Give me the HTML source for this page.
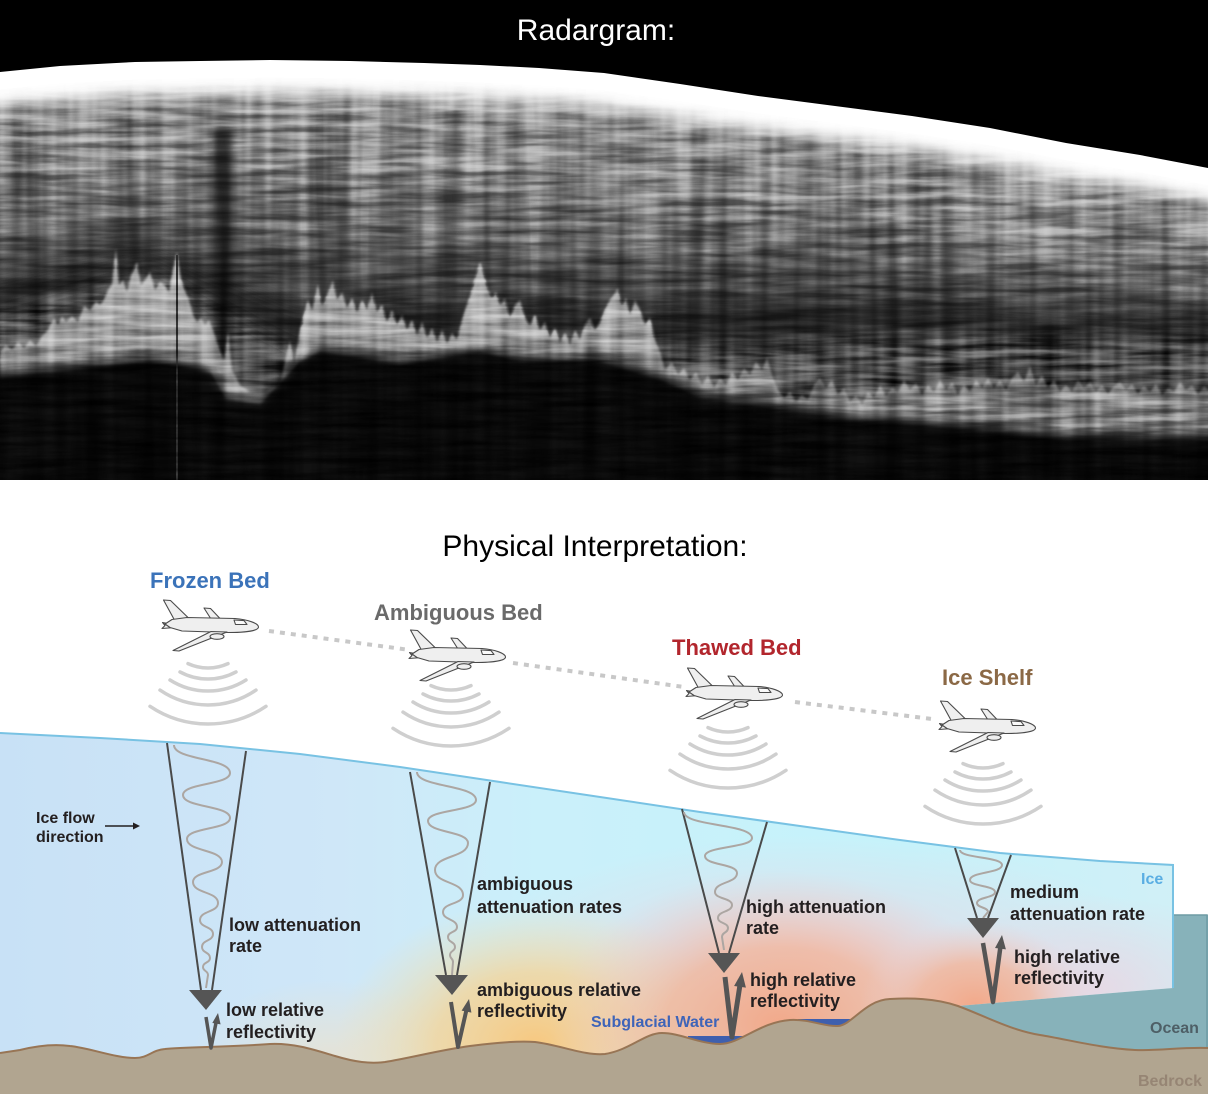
<!DOCTYPE html>
<html>
<head>
<meta charset="utf-8">
<style>
html,body{margin:0;padding:0;background:#fff;width:1208px;height:1094px;overflow:hidden;}
svg{display:block;}
text{font-family:"Liberation Sans",Arial,Helvetica,sans-serif;}
.lb{font-weight:bold;font-size:18px;fill:#231f20;}
</style>
</head>
<body>
<svg width="1208" height="1094" viewBox="0 0 1208 1094" xmlns="http://www.w3.org/2000/svg" overflow="hidden">
<defs>
  <filter id="blur9" filterUnits="userSpaceOnUse" x="-60" y="-60" width="1330" height="600"><feGaussianBlur stdDeviation="9"/></filter>
  <filter id="blur7" filterUnits="userSpaceOnUse" x="-60" y="-60" width="1330" height="600"><feGaussianBlur stdDeviation="7"/></filter>
  <filter id="blur5" filterUnits="userSpaceOnUse" x="-60" y="-60" width="1330" height="600"><feGaussianBlur stdDeviation="5"/></filter>
  <filter id="blur3" filterUnits="userSpaceOnUse" x="-60" y="-60" width="1330" height="600"><feGaussianBlur stdDeviation="3"/></filter>
  <filter id="blur1" filterUnits="userSpaceOnUse" x="-60" y="-60" width="1330" height="600"><feGaussianBlur stdDeviation="1.2"/></filter>
  <filter id="tx1" filterUnits="userSpaceOnUse" x="0" y="0" width="1208" height="480" color-interpolation-filters="sRGB">
    <feTurbulence type="fractalNoise" baseFrequency="0.012 0.14" numOctaves="3" seed="5"/>
    <feColorMatrix type="matrix" values="1 0 0 0 0  1 0 0 0 0  1 0 0 0 0  0 0 0 0 1"/>
    <feComponentTransfer>
      <feFuncR type="linear" slope="2" intercept="-0.5"/>
      <feFuncG type="linear" slope="2" intercept="-0.5"/>
      <feFuncB type="linear" slope="2" intercept="-0.5"/>
    </feComponentTransfer>
  </filter>
  <filter id="tx2" filterUnits="userSpaceOnUse" x="0" y="0" width="1208" height="480" color-interpolation-filters="sRGB">
    <feTurbulence type="fractalNoise" baseFrequency="0.07 0.003" numOctaves="2" seed="11"/>
    <feColorMatrix type="matrix" values="1 0 0 0 0  1 0 0 0 0  1 0 0 0 0  0 0 0 0 1"/>
    <feComponentTransfer>
      <feFuncR type="linear" slope="2" intercept="-0.5"/>
      <feFuncG type="linear" slope="2" intercept="-0.5"/>
      <feFuncB type="linear" slope="2" intercept="-0.5"/>
    </feComponentTransfer>
  </filter>
  <clipPath id="radclip">
    <polygon points="-10,88 0,87 60,81 135,77 200,76 270,75 350,76 424,78 480,80 539,83 604,88 680,99 758,111 835,121 912,131 990,143 1066,158 1140,170 1208,183 1218,185 1218,480 -10,480"/>
  </clipPath>
  <clipPath id="radbox"><rect x="0" y="0" width="1208" height="480"/></clipPath>
  <linearGradient id="spk" x1="0" y1="240" x2="0" y2="450" gradientUnits="userSpaceOnUse">
    <stop offset="0" stop-color="#c4c4c4"/>
    <stop offset="0.5" stop-color="#989898"/>
    <stop offset="1" stop-color="#707070"/>
  </linearGradient>

  <clipPath id="iceclip">
    <path d="M0,733 L100,738 L200,744 L300,754 L400,767 L500,782 L600,797 L700,812 L800,826 L900,840 L1000,853 L1100,861 L1173,865 L1173,988 L958,1006 L958,1094 L0,1094 Z"/>
  </clipPath>
  <linearGradient id="iceBase" x1="0" y1="0" x2="1208" y2="0" gradientUnits="userSpaceOnUse">
    <stop offset="0" stop-color="#c8e1f6"/>
    <stop offset="0.28" stop-color="#cfe7f8"/>
    <stop offset="0.45" stop-color="#caf0fa"/>
    <stop offset="0.75" stop-color="#c5f3fb"/>
    <stop offset="1" stop-color="#d2eff6"/>
  </linearGradient>
  <radialGradient id="gY" gradientUnits="userSpaceOnUse" cx="0" cy="0" r="1" gradientTransform="translate(535 1045) scale(200 145)">
    <stop offset="0" stop-color="#f7c880" stop-opacity="1"/>
    <stop offset="0.5" stop-color="#f6d394" stop-opacity="0.75"/>
    <stop offset="1" stop-color="#f5e0b0" stop-opacity="0"/>
  </radialGradient>
  <radialGradient id="gS" gradientUnits="userSpaceOnUse" cx="0" cy="0" r="1" gradientTransform="translate(780 1025) scale(230 155)">
    <stop offset="0" stop-color="#f2a98a" stop-opacity="1"/>
    <stop offset="0.5" stop-color="#f1b69c" stop-opacity="0.8"/>
    <stop offset="1" stop-color="#eecfd0" stop-opacity="0"/>
  </radialGradient>
  <radialGradient id="gS2" gradientUnits="userSpaceOnUse" cx="0" cy="0" r="1" gradientTransform="translate(975 1005) scale(115 85)">
    <stop offset="0" stop-color="#f2a98a" stop-opacity="1"/>
    <stop offset="0.5" stop-color="#f1b69c" stop-opacity="0.8"/>
    <stop offset="1" stop-color="#eecfd0" stop-opacity="0"/>
  </radialGradient>
  <radialGradient id="gL" gradientUnits="userSpaceOnUse" cx="0" cy="0" r="1" gradientTransform="translate(820 955) scale(340 120)">
    <stop offset="0" stop-color="#e8d8e4" stop-opacity="0.95"/>
    <stop offset="1" stop-color="#e8d8e4" stop-opacity="0"/>
  </radialGradient>
  <radialGradient id="gL2" gradientUnits="userSpaceOnUse" cx="0" cy="0" r="1" gradientTransform="translate(1090 990) scale(170 95)">
    <stop offset="0" stop-color="#e8d8e4" stop-opacity="0.95"/>
    <stop offset="1" stop-color="#e8d8e4" stop-opacity="0"/>
  </radialGradient>
  <radialGradient id="gG" gradientUnits="userSpaceOnUse" cx="0" cy="0" r="1" gradientTransform="translate(330 1060) scale(140 80)">
    <stop offset="0" stop-color="#e8e2d2" stop-opacity="0.9"/>
    <stop offset="1" stop-color="#e8e2d2" stop-opacity="0"/>
  </radialGradient>

  <g id="plane" stroke="#4a4a4a" stroke-width="1.1" stroke-linejoin="round" fill="#efefef">
    <path d="M49,19 L42,8 L48.5,8.5 L58.5,19 Z"/>
    <path d="M13,21 L1.5,0 L8.5,0.5 L26,17.5 Z"/>
    <path d="M12,24.5 L0.5,22.5 L3,25.5 L0,28.5 L13,27.5 Z"/>
    <path d="M3,24 L10,19.5 L25,17.5 L73,18.5 C86,19.5 96.5,23.5 96.5,27 C96.5,30.5 85,32.5 66,32.5 L20,31 L8,27.5 Z"/>
    <path d="M65,32 L17,51 L11,50.5 L49,31.5 Z"/>
    <ellipse cx="55" cy="36.5" rx="7" ry="2.8"/>
    <path d="M72,20 L82,20.6 L85,24.5 L73.5,24.5 Z" fill="#fafafa"/>
  </g>
  <g id="arcs" fill="none" stroke="#cfcfcf" stroke-width="3.5" stroke-linecap="round">
    <path d="M-20,43.6 A48,48 0 0 0 20,43.6"/>
    <path d="M-28,51.9 A59,59 0 0 0 28,51.9"/>
    <path d="M-38,60 A71,71 0 0 0 38,60"/>
    <path d="M-48,70.1 A85,85 0 0 0 48,70.1"/>
    <path d="M-58,86.3 A104,104 0 0 0 58,86.3"/>
  </g>
</defs>

<!-- ================= RADARGRAM ================= -->
<rect x="0" y="0" width="1208" height="480" fill="#000"/>
<g clip-path="url(#radbox)">
<g filter="url(#blur9)">
  <path fill="#222222" d="M-40,-20 L1250,-20 L1250,345 L1050,335 L900,335 L750,345 L600,340 L450,335 L300,350 L150,270 L-40,325 Z"/>
  <path fill="#444444" d="M-40,-20 L1250,-20 L1250,320 L1050,310 L900,300 L750,300 L600,305 L450,298 L300,305 L150,245 L-40,285 Z"/>
  <path fill="#666666" d="M-40,-20 L1250,-20 L1250,295 L1050,280 L900,265 L750,255 L600,258 L450,248 L300,250 L150,218 L-40,240 Z"/>
  <path fill="#838383" d="M-40,-20 L1250,-20 L1250,265 L1050,245 L900,225 L750,205 L600,195 L450,182 L300,175 L150,170 L-40,178 Z"/>
  <path fill="#9c9c9c" d="M-40,-20 L1250,-20 L1250,215 L1050,190 L900,162 L750,142 L600,120 L450,110 L300,107 L150,108 L-40,118 Z"/>
</g>
<!-- white surface band -->
<polygon filter="url(#blur7)" fill="#ffffff" points="-40,48 0,47 60,41 135,37 200,36 270,35 350,36 424,38 480,40 539,43 604,48 680,59 758,71 835,81 912,91 990,103 1066,118 1140,130 1208,143 1250,150 1250,208 1208,201 1140,188 1066,176 990,161 912,149 835,139 758,129 680,117 604,106 539,101 480,98 424,96 350,94 270,93 200,94 135,95 60,99 0,105 -40,106"/>
<!-- black above surface -->
<polygon fill="#000" points="-10,-10 1218,-10 1218,170 1208,168 1140,155 1066,143 990,128 912,116 835,106 758,96 680,84 604,73 539,68 480,65 424,63 350,61 270,60 200,61 135,62 60,66 0,72 -10,73"/>
<!-- dark streak -->
<polygon filter="url(#blur3)" fill="#000" opacity="0.55" points="214,130 232,130 228,370 221,370"/>
<polygon filter="url(#blur3)" fill="#000" opacity="0.35" points="448,110 458,110 457,300 452,300"/>
<!-- bedrock echo -->
<polygon filter="url(#blur1)" fill="url(#spk)" points="0,352 6,345 12,350 18,342 24,348 30,340 36,346 42,336 48,330 54,318 58,325 62,316 66,322 72,316 78,322 84,306 90,310 96,302 100,305 104,300 108,290 112,285 116,248 119,285 123,280 127,292 131,275 137,262 141,285 145,280 150,272 155,290 160,282 165,286 169,292 173,270 177,252 181,280 185,290 189,300 193,315 197,322 201,318 205,325 209,320 213,330 218,345 224,360 228,332 232,370 240,385 250,392 265,392 280,385 290,340 294,365 300,330 304,315 308,300 312,310 318,284 322,305 327,295 333,280 337,300 342,292 347,308 352,298 357,312 362,300 367,310 372,292 377,312 382,305 387,322 392,310 397,325 402,315 407,330 412,320 417,335 422,322 427,338 432,328 437,342 442,330 447,344 452,333 457,340 462,320 467,305 472,290 476,275 480,262 484,275 488,290 492,298 496,292 500,305 505,298 510,318 515,305 520,300 525,318 530,325 535,315 540,330 545,322 550,338 555,328 560,342 565,333 570,345 575,330 580,340 585,325 590,318 595,330 600,322 605,310 610,300 614,295 618,288 622,305 626,298 630,315 635,300 640,310 645,325 650,318 655,340 660,352 665,370 672,362 678,375 684,368 690,380 696,372 702,385 708,375 714,388 720,378 726,385 732,372 738,380 744,368 750,375 756,362 762,370 767,358 772,375 778,390 784,398 790,392 796,402 802,395 808,400 814,385 820,378 826,388 832,380 838,395 844,388 850,402 856,395 862,405 868,392 874,398 880,385 886,396 892,388 898,392 904,380 910,390 916,383 922,395 928,385 934,392 940,380 946,390 952,382 958,395 964,385 970,392 976,380 982,388 988,378 994,388 1000,380 1006,390 1012,378 1018,372 1024,382 1030,366 1036,385 1042,375 1048,388 1054,380 1060,392 1066,385 1072,392 1078,380 1084,388 1090,382 1096,392 1102,385 1108,394 1114,386 1120,382 1126,390 1132,384 1138,394 1144,386 1150,392 1156,384 1162,395 1168,388 1174,392 1180,382 1186,390 1192,385 1198,395 1204,386 1208,390 1210,390 1210,442 1066,440 950,428 850,420 780,410 700,398 660,380 600,362 520,362 480,352 400,365 320,352 300,362 260,405 225,398 210,372 150,362 100,368 50,372 0,378"/>
<!-- soften bed bottom -->
<polygon filter="url(#blur5)" fill="#000" opacity="0.9" points="1230,436 1066,434 950,422 850,414 780,404 700,392 660,374 600,356 520,356 480,346 400,359 320,346 300,358 260,402 225,395 210,366 150,356 100,362 50,366 0,372 -30,372 -30,500 1230,500"/>
<line x1="177" y1="255" x2="177" y2="480" stroke="#2e2e2e" stroke-width="2"/>
<!-- textures -->
<rect x="0" y="0" width="1208" height="480" fill="#888" filter="url(#tx1)" clip-path="url(#radclip)" style="mix-blend-mode:overlay" opacity="0.4"/>
<rect x="0" y="0" width="1208" height="480" fill="#888" filter="url(#tx2)" clip-path="url(#radclip)" style="mix-blend-mode:overlay" opacity="0.3"/>
</g>

<text x="596" y="40" text-anchor="middle" font-size="30" fill="#ffffff">Radargram:</text>

<!-- ================= PHYSICAL INTERPRETATION ================= -->
<text x="595" y="556" text-anchor="middle" font-size="30" fill="#000">Physical Interpretation:</text>

<!-- ice body -->
<g clip-path="url(#iceclip)">
  <rect x="0" y="720" width="1208" height="374" fill="url(#iceBase)"/>
  <rect x="0" y="720" width="1208" height="374" fill="url(#gL)"/>
  <rect x="0" y="720" width="1208" height="374" fill="url(#gL2)"/>
  <rect x="0" y="720" width="1208" height="374" fill="url(#gG)"/>
  <rect x="0" y="720" width="1208" height="374" fill="url(#gY)"/>
  <rect x="0" y="720" width="1208" height="374" fill="url(#gS)"/>
  <rect x="0" y="720" width="1208" height="374" fill="url(#gS2)"/>
</g>

<!-- ocean -->
<path d="M958,1006 L1173,988 L1173,915 L1208,915 L1208,1094 L958,1094 Z" fill="#87b2ba"/>
<path d="M1173,915 L1207,915 L1207,1050" fill="none" stroke="#6f9ba4" stroke-width="1.5"/>

<!-- water pools -->
<rect x="688" y="1036" width="68" height="14" fill="#3e5fae"/>
<rect x="798" y="1019" width="58" height="13" fill="#3e5fae"/>

<!-- bedrock -->
<path fill="#b1a590" d="M0,1053 L20,1050 C40,1045 55,1044 70,1046 C90,1048 115,1058 135,1058 C148,1058 152,1050 165,1049 C185,1047 230,1047 270,1044 C295,1043 315,1050 335,1056 C355,1062 370,1064 385,1062 C410,1058 440,1050 470,1046 C500,1042 520,1041 535,1042 C560,1045 585,1056 605,1054 C630,1050 645,1033 662,1033 C680,1033 700,1044 720,1044 C740,1044 760,1022 790,1020 C810,1019 825,1027 838,1026 C852,1025 865,1000 890,999 C910,998 935,998 958,1006 C985,1016 1010,1030 1040,1035 C1070,1040 1100,1048 1135,1050 C1160,1051 1180,1047 1208,1048 L1208,1094 L0,1094 Z"/>
<path fill="none" stroke="#987555" stroke-width="2" d="M0,1053 L20,1050 C40,1045 55,1044 70,1046 C90,1048 115,1058 135,1058 C148,1058 152,1050 165,1049 C185,1047 230,1047 270,1044 C295,1043 315,1050 335,1056 C355,1062 370,1064 385,1062 C410,1058 440,1050 470,1046 C500,1042 520,1041 535,1042 C560,1045 585,1056 605,1054 C630,1050 645,1033 662,1033 C680,1033 700,1044 720,1044 C740,1044 760,1022 790,1020 C810,1019 825,1027 838,1026 C852,1025 865,1000 890,999 C910,998 935,998 958,1006 C985,1016 1010,1030 1040,1035 C1070,1040 1100,1048 1135,1050 C1160,1051 1180,1047 1208,1048"/>

<!-- ice surface line -->
<path d="M0,733 L100,738 L200,744 L300,754 L400,767 L500,782 L600,797 L700,812 L800,826 L900,840 L1000,853 L1100,861 L1173,865 L1173,988" fill="none" stroke="#78c2e3" stroke-width="2"/>

<!-- dotted flight path -->
<g stroke="#c8c8c8" stroke-width="4" stroke-dasharray="5 6" fill="none">
  <line x1="269" y1="631" x2="410" y2="650"/>
  <line x1="513" y1="663" x2="684" y2="687"/>
  <line x1="795" y1="702" x2="932" y2="719"/>
</g>

<!-- radar arcs -->
<use href="#arcs" x="208" y="620"/>
<use href="#arcs" x="451" y="642"/>
<use href="#arcs" x="728" y="684"/>
<use href="#arcs" x="983" y="720"/>

<!-- planes -->
<use href="#plane" x="162" y="600"/>
<use href="#plane" x="409" y="630"/>
<use href="#plane" x="686" y="668"/>
<use href="#plane" x="939" y="701"/>

<!-- bed type titles -->
<text x="150" y="588" font-size="22" font-weight="bold" fill="#3b73b9">Frozen Bed</text>
<text x="374" y="620" font-size="22" font-weight="bold" fill="#6a6a6a">Ambiguous Bed</text>
<text x="672" y="655" font-size="22" font-weight="bold" fill="#b2262d">Thawed Bed</text>
<text x="942" y="685" font-size="22" font-weight="bold" fill="#8b6946">Ice Shelf</text>

<!-- cones -->
<g stroke="#4a4a4a" stroke-width="2" fill="none">
  <line x1="167" y1="743" x2="201" y2="990"/>
  <line x1="246" y1="751" x2="212" y2="990"/>
  <line x1="410" y1="772" x2="446" y2="975"/>
  <line x1="490" y1="782" x2="457" y2="975"/>
  <line x1="682" y1="809" x2="719" y2="953"/>
  <line x1="767" y1="822" x2="729" y2="953"/>
  <line x1="955" y1="848" x2="977" y2="918"/>
  <line x1="1011" y1="855" x2="988" y2="918"/>
</g>
<!-- waves -->
<g stroke="#aca6a2" stroke-width="2" fill="none">
  <path d="M174,745 C174,760.4 230,757.6 230,773 C230,785.1 183,782.9 183,795 C183,807.7 230,805.3 230,818 C230,829.6 187,827.4 187,839 C187,851.7 222,849.3 222,862 C222,873 193,871 193,882 C193,893.6 218,891.4 218,903 C218,912.4 200,910.6 200,920 C200,927.7 213,926.3 213,934 C213,941.2 202,939.8 202,947 C202,953 210,952 210,958 C210,963 203,962 203,967 C203,971.4 208,970.6 208,975 L206,988"/>
  <path d="M417,772 C417,787.4 476,784.6 476,800 C476,811.6 428,809.4 428,821 C428,833.1 468,830.9 468,843 C468,857.9 435,855.1 435,870 C435,883.8 463,881.2 463,895 C463,904.4 443,902.6 443,912 C443,920.3 457,918.7 457,927 C457,932.5 448,931.5 448,937 C448,942.5 455,941.5 455,947 C455,951.4 450,950.6 450,955 C450,958.9 453,958.1 453,962 L452,975"/>
  <path d="M684,812 C684,826.3 752,823.7 752,838 C752,847.9 705,846.1 705,856 C705,865.4 737,863.6 737,873 C737,883.5 715,881.5 715,892 C715,899.2 732,897.8 732,905 C732,912.2 718,910.8 718,918 C718,923.5 728,922.5 728,928 C728,933 722,932 722,937 L724,950"/>
  <path d="M960,850 C960,858.3 1002,856.7 1002,865 C1002,873.3 970,871.7 970,880 C970,886.6 995,885.4 995,892 C995,898 977,897 977,903 C977,908 988,907 988,912 L983,918"/>
</g>
<!-- down triangles -->
<g fill="#555555">
  <polygon points="189,990 222,990 206,1010"/>
  <polygon points="435,975 468,975 452,995"/>
  <polygon points="708,953 740,953 724,973"/>
  <polygon points="967,918 999,918 983,938"/>
</g>
<!-- reflection arrows -->
<g stroke="#555555" fill="none" stroke-linejoin="round">
  <path d="M206,1017 L211,1048 L216.2,1021.8" stroke-width="3.5"/>
  <path d="M451,1002 L458,1047 L466.5,1009.7" stroke-width="4"/>
  <path d="M725,977 L732,1037 L740,984.8" stroke-width="5"/>
  <path d="M983,943 L993,1002 L1000.4,946.9" stroke-width="4.5"/>
</g>
<g fill="#555555">
  <polygon points="218,1013 212.3,1023 220.6,1024.4"/>
  <polygon points="469,999 461.6,1010.6 471.4,1012.6"/>
  <polygon points="742,972 734.1,986 745.9,987.6"/>
  <polygon points="1002,935 995,948 1005.9,949.4"/>
</g>

<!-- ice flow -->
<text x="36" y="823" font-size="16" font-weight="bold" fill="#231f20">Ice flow</text>
<text x="36" y="842" font-size="16" font-weight="bold" fill="#231f20">direction</text>
<line x1="105" y1="826" x2="134" y2="826" stroke="#231f20" stroke-width="1.6"/>
<polygon points="140,826 133,822.5 133,829.5" fill="#231f20"/>

<!-- labels -->
<text class="lb" x="229" y="931">low attenuation</text>
<text class="lb" x="229" y="952">rate</text>
<text class="lb" x="226" y="1016">low relative</text>
<text class="lb" x="226" y="1038">reflectivity</text>

<text class="lb" x="477" y="890">ambiguous</text>
<text class="lb" x="477" y="913">attenuation rates</text>
<text class="lb" x="477" y="996">ambiguous relative</text>
<text class="lb" x="477" y="1017">reflectivity</text>

<text x="591" y="1027" font-size="16" font-weight="bold" fill="#3e64b8">Subglacial Water</text>

<text class="lb" x="746" y="913">high attenuation</text>
<text class="lb" x="746" y="934">rate</text>
<text class="lb" x="750" y="986">high relative</text>
<text class="lb" x="750" y="1007">reflectivity</text>

<text class="lb" x="1010" y="898">medium</text>
<text class="lb" x="1010" y="920">attenuation rate</text>
<text class="lb" x="1014" y="963">high relative</text>
<text class="lb" x="1014" y="984">reflectivity</text>

<text x="1141" y="884" font-size="16" font-weight="bold" fill="#5aaee3">Ice</text>
<text x="1150" y="1033" font-size="16" font-weight="bold" fill="#4e5f66">Ocean</text>
<text x="1138" y="1086" font-size="16" font-weight="bold" fill="#968574">Bedrock</text>
</svg>
</body>
</html>
